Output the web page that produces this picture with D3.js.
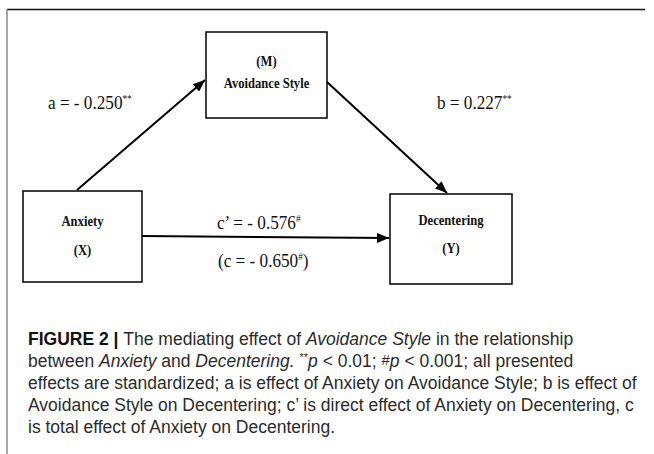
<!DOCTYPE html>
<html>
<head>
<meta charset="utf-8">
<script src="https://cdn.jsdelivr.net/npm/d3@7"></script>
<style>
  html, body { margin: 0; padding: 0; background: #fff; }
  svg { display: block; }
</style>
</head>
<body>
<div id="chart"></div>
<script>
// nodes of the mediation model
var nodeIds = ["X", "M", "Y"];
var nodeNames = ["Anxiety", "Avoidance Style", "Decentering"];
var nodeTags = ["(X)", "(M)", "(Y)"];

// paths and their standardized coefficients
var pathFrom = ["X", "M", "X"];
var pathTo = ["M", "Y", "Y"];
var pathNames = ["a", "b", "c\u2019"];
var pathValues = ["- 0.250", "0.227", "- 0.576"];
var pathSig = ["**", "**", "#"];
var totalName = "c";
var totalValue = "- 0.650";
var totalSig = "#";

// caption, one entry per line: [text, style] pieces
var captionLines = [
  [["FIGURE 2 | ", "b"], ["The mediating effect of ", ""], ["Avoidance Style", "i"], [" in the relationship", ""]],
  [["between ", ""], ["Anxiety", "i"], [" and ", ""], ["Decentering.", "i"], [" ", ""], ["**", "sup"], ["p", "i"], [" < 0.01; ", ""], ["#", "sup2"], ["p", "i"], [" < 0.001; all presented", ""]],
  [["effects are standardized; a is effect of Anxiety on Avoidance Style; b is effect of", ""]],
  [["Avoidance Style on Decentering; c\u2019 is direct effect of Anxiety on Decentering, c", ""]],
  [["is total effect of Anxiety on Decentering.", ""]]
];

var width = 654, height = 454;

// layout of the boxes (pixels)
var boxes = {
  X: {x0: 23, y0: 191, x1: 142, y1: 282, nameY: 226, tagY: 255},
  M: {x0: 206, y0: 32, x1: 327, y1: 118, nameY: 88, tagY: 66},
  Y: {x0: 390, y0: 194, x1: 512, y1: 284, nameY: 225, tagY: 253}
};
// where each arrow leaves / arrives
var ends = {
  "X-M": [[77, 190], [205, 80]],
  "M-Y": [[327, 82], [447, 193]],
  "X-Y": [[142, 236], [389, 238]]
};
var labelPos = [
  {x: 48, y: 109},
  {x: 437, y: 109},
  {x: 217, y: 229}
];
var condense = 0.84;

var svg = d3.select("#chart").append("svg")
  .attr("width", width)
  .attr("height", height);

svg.append("defs").append("marker")
  .attr("id", "arrow")
  .attr("viewBox", "0 0 12 10")
  .attr("refX", 12)
  .attr("refY", 5)
  .attr("markerWidth", 12)
  .attr("markerHeight", 10)
  .attr("markerUnits", "userSpaceOnUse")
  .attr("orient", "auto")
  .append("path")
  .attr("d", "M0,0 L12,5 L0,10 Z")
  .attr("fill", "#000");

// frame
svg.append("line")
  .attr("x1", 7).attr("x2", 645).attr("y1", 9.5).attr("y2", 9.5)
  .attr("stroke", "#111").attr("stroke-width", 1.5);
svg.append("line")
  .attr("x1", 7).attr("x2", 7).attr("y1", 9).attr("y2", height)
  .attr("stroke", "#8a8a8a").attr("stroke-width", 1.5);

var nodes = nodeIds.map(function(id, i){
  return {id: id, name: nodeNames[i], tag: nodeTags[i], box: boxes[id]};
});

var line = d3.line();

var paths = pathFrom.map(function(f, i){
  return {key: f + "-" + pathTo[i], name: pathNames[i], value: pathValues[i], sig: pathSig[i], pos: labelPos[i]};
});

svg.append("g").selectAll("path")
  .data(paths)
  .enter().append("path")
  .attr("d", function(d){ return line(ends[d.key]); })
  .attr("fill", "none")
  .attr("stroke", "#000")
  .attr("stroke-width", 2)
  .attr("marker-end", "url(#arrow)");

var nodeG = svg.append("g").selectAll("g")
  .data(nodes)
  .enter().append("g");

nodeG.append("rect")
  .attr("x", function(d){ return d.box.x0; })
  .attr("y", function(d){ return d.box.y0; })
  .attr("width", function(d){ return d.box.x1 - d.box.x0; })
  .attr("height", function(d){ return d.box.y1 - d.box.y0; })
  .attr("fill", "#fff")
  .attr("stroke", "#000")
  .attr("stroke-width", 1.5);

function boxText(field, yField){
  nodeG.append("g")
    .attr("transform", function(d){
      return "translate(" + (d.box.x0 + d.box.x1) / 2 + "," + d.box[yField] + ") scale(" + condense + ",1)";
    })
    .append("text")
    .attr("text-anchor", "middle")
    .attr("font-family", "'Liberation Serif', 'Times New Roman', serif")
    .attr("font-weight", "bold")
    .attr("font-size", 15)
    .attr("fill", "#111")
    .text(function(d){ return d[field]; });
}
boxText("name", "nameY");
boxText("tag", "tagY");

// coefficient labels (a bit wider than the box labels)
function coef(x, y, pre, name, value, sig, post){
  var t = svg.append("g")
    .attr("transform", "translate(" + x + "," + y + ") scale(0.88,1)")
    .append("text")
    .attr("font-family", "'Liberation Serif', 'Times New Roman', serif")
    .attr("font-size", 19.5)
    .attr("fill", "#111");
  t.append("tspan").text(pre + name + " = " + value);
  t.append("tspan").attr("dy", -7).attr("font-size", 10.5).text(sig);
  if (post) t.append("tspan").attr("dy", 7).text(post);
}

paths.forEach(function(d){
  coef(d.pos.x, d.pos.y, "", d.name, d.value, d.sig, null);
});
coef(218, 267, "(", totalName, totalValue, totalSig, ")");

// caption
var cap = svg.append("g")
  .attr("font-family", "'Liberation Sans', Arial, sans-serif")
  .attr("font-size", 17.5)
  .attr("fill", "#2b2b2b");

captionLines.forEach(function(parts, i){
  var t = cap.append("text")
    .attr("x", 28)
    .attr("y", 345 + i * 22);
  parts.forEach(function(p){
    var s = t.append("tspan").text(p[0]);
    if (p[1] === "b") s.attr("font-weight", "bold").attr("fill", "#111");
    if (p[1] === "i") s.attr("font-style", "italic");
    if (p[1] === "sup") s.attr("font-size", 11).attr("baseline-shift", "6");
    if (p[1] === "sup2") s.attr("font-size", 15).attr("baseline-shift", "2");
  });
});
</script>
</body>
</html>
